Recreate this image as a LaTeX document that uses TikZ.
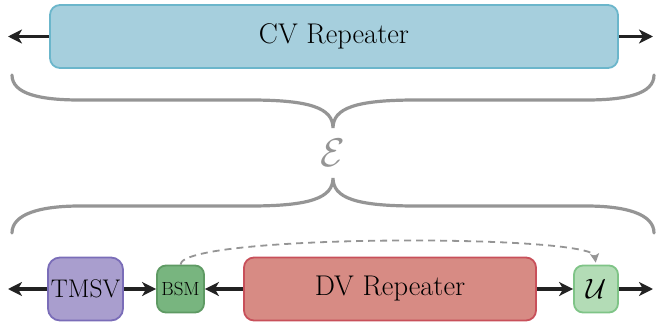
\RequirePackage{fix-cm}
\documentclass[tikz,border=0pt]{standalone}
\usetikzlibrary{arrows.meta}

\definecolor{cvfill}{HTML}{A6CFDD}
\definecolor{cvline}{HTML}{6BB6CB}
\definecolor{tmfill}{HTML}{A99ECE}
\definecolor{tmline}{HTML}{7A6DB8}
\definecolor{bsfill}{HTML}{78B57F}
\definecolor{bsline}{HTML}{5E9A63}
\definecolor{dvfill}{HTML}{D78B84}
\definecolor{dvline}{HTML}{C8505A}
\definecolor{ufill}{HTML}{B3DCB6}
\definecolor{uline}{HTML}{7FC487}
\definecolor{bracegray}{HTML}{959595}
\definecolor{arrowblack}{HTML}{222222}

\tikzset{
  block/.style={draw, line width=1.8pt, rounded corners=10pt, inner sep=0pt},
  link/.style={draw=arrowblack, line width=3.2pt,
    -{Stealth[length=14pt,width=14pt,inset=4pt]}},
  bracepath/.style={draw=bracegray, line width=3.2pt, line cap=round},
  hint/.style={draw=bracegray, line width=1.8pt, dash pattern=on 7pt off 5pt,
    -{Stealth[length=9pt,width=9pt,inset=2pt]}, shorten >=2pt},
}

\begin{document}
\begin{tikzpicture}[x=1pt,y=-1pt]
  \useasboundingbox (0,0) rectangle (656,324);

  % continuous-variable chain
  \node[block, fill=cvfill, draw=cvline, minimum width=568pt, minimum height=63pt]
    (cv) at (334,36.5) {\fontsize{28.5}{32}\selectfont CV Repeater};
  \coordinate (cvL) at (8,36.5);
  \coordinate (cvR) at (653,36.5);
  \draw[link] (cv.west) -- (cvL);
  \draw[link] (cv.east) -- (cvR);

  % braces joined at the equivalence symbol
  \draw[bracepath] (12,75) .. controls (12,94) and (40,100) .. (80,100)
    -- (250,100) .. controls (310,100) and (333,108) .. (333,128)
    .. controls (333,108) and (356,100) .. (416,100)
    -- (586,100) .. controls (626,100) and (654,94) .. (654,75);
  \node[text=bracegray] (eq) at (333,152.5) {\fontsize{40}{44}\selectfont $\mathcal{E}$};
  \draw[bracepath] (12,233) .. controls (12,214) and (40,206) .. (80,206)
    -- (250,206) .. controls (310,206) and (333,198) .. (333,178)
    .. controls (333,198) and (356,206) .. (416,206)
    -- (586,206) .. controls (626,206) and (654,214) .. (654,233);

  % discrete-variable chain
  \node[block, fill=tmfill, draw=tmline, rounded corners=12pt,
        minimum width=75pt, minimum height=63pt]
    (tmsv) at (85.5,289) {\fontsize{25.5}{28}\selectfont TMSV};
  \node[block, fill=bsfill, draw=bsline, rounded corners=9pt,
        minimum width=47pt, minimum height=47pt]
    (bsm) at (180.5,289) {\fontsize{19}{22}\selectfont BSM};
  \node[block, fill=dvfill, draw=dvline, minimum width=292pt, minimum height=63pt]
    (dv) at (390,289) {\fontsize{28.5}{32}\selectfont DV Repeater};
  \node[block, fill=ufill, draw=uline, rounded corners=9pt,
        minimum width=44pt, minimum height=47pt]
    (u) at (596,289) {\fontsize{28}{30}\selectfont $\mathcal{U}$};
  \coordinate (dvL) at (8,289);
  \coordinate (dvR) at (653,289);

  \draw[link] (tmsv.west) -- (dvL);
  \draw[link] (tmsv.east) -- (bsm.west);
  \draw[link] (dv.west) -- (bsm.east);
  \draw[link] (dv.east) -- (u.west);
  \draw[link] (u.east) -- (dvR);

  \draw[hint] (bsm.north) .. controls (181,234) and (592,234) .. (u.north);
\end{tikzpicture}
\end{document}
